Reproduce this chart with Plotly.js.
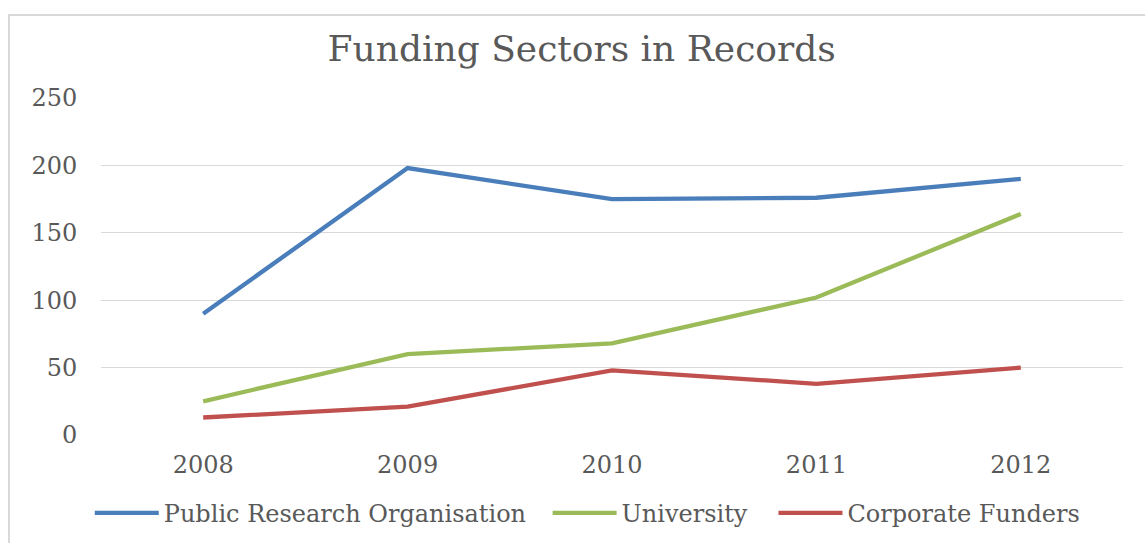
<!DOCTYPE html>
<html>
<head>
<meta charset="utf-8">
<script src="https://cdn.plot.ly/plotly-3.0.1.min.js"></script>
<style>
  html, body { margin: 0; padding: 0; background: #ffffff; }
  #frame { position: absolute; left: 8px; top: 14px; width: 1160px; height: 560px; border: 2px solid #d9d9d9; box-sizing: border-box; }
  #chart { position: absolute; left: 0; top: 0; width: 1145px; height: 543px; }
</style>
</head>
<body>
<div id="frame"></div>
<div id="chart"></div>
<script>
const years = ['2008', '2009', '2010', '2011', '2012'];
const publicResearch = [90, 198, 175, 176, 190];
const university = [25, 60, 68, 102, 164];
const corporate = [13, 21, 48, 38, 50];
const seriesNames = ['Public Research Organisation', 'University', 'Corporate Funders'];
const yTicks = [0, 50, 100, 150, 200, 250];

const font = 'DejaVu Serif, Cambria, serif';
const colors = ['#4a7ebb', '#9bbb59', '#c0504d'];
const values = [publicResearch, university, corporate];
const legendIds = ['legend', 'legend2', 'legend3'];
const legendX = [-0.011, 0.437, 0.658];

const traces = values.map((v, i) => ({
  x: years, y: v, type: 'scatter', mode: 'lines', name: seriesNames[i],
  legend: legendIds[i],
  line: { color: colors[i], width: 4.3 }
}));

const layout = {
  width: 1145, height: 543,
  paper_bgcolor: 'rgba(0,0,0,0)', plot_bgcolor: 'rgba(0,0,0,0)',
  margin: { l: 101, r: 22, t: 98, b: 108, autoexpand: false },
  title: { text: 'Funding Sectors in Records', font: { family: font, size: 36, color: '#595959' },
           x: 0.508, xanchor: 'center', y: 0.91, yanchor: 'middle' },
  xaxis: { type: 'category', range: [-0.5, 4.5], showgrid: false, zeroline: false, showline: false,
           automargin: false, ticks: 'outside', ticklen: 8, tickcolor: 'rgba(0,0,0,0)',
           tickfont: { family: font, size: 24, color: '#595959' } },
  yaxis: { range: [0, 250], tickvals: yTicks, showgrid: true, gridcolor: '#d9d9d9', gridwidth: 1,
           automargin: false, zeroline: false, showline: false, ticks: 'outside', ticklen: 18,
           tickcolor: 'rgba(0,0,0,0)', tickfont: { family: font, size: 24, color: '#595959' } },
  showlegend: true
};
legendIds.forEach((id, i) => {
  layout[id] = { orientation: 'h', x: legendX[i], xanchor: 'left', y: -0.232, yanchor: 'middle',
                 font: { family: font, size: 24, color: '#595959' }, itemwidth: 64,
                 bgcolor: 'rgba(0,0,0,0)' };
});

Plotly.newPlot('chart', traces, layout, { displayModeBar: false, staticPlot: true });
</script>
</body>
</html>
